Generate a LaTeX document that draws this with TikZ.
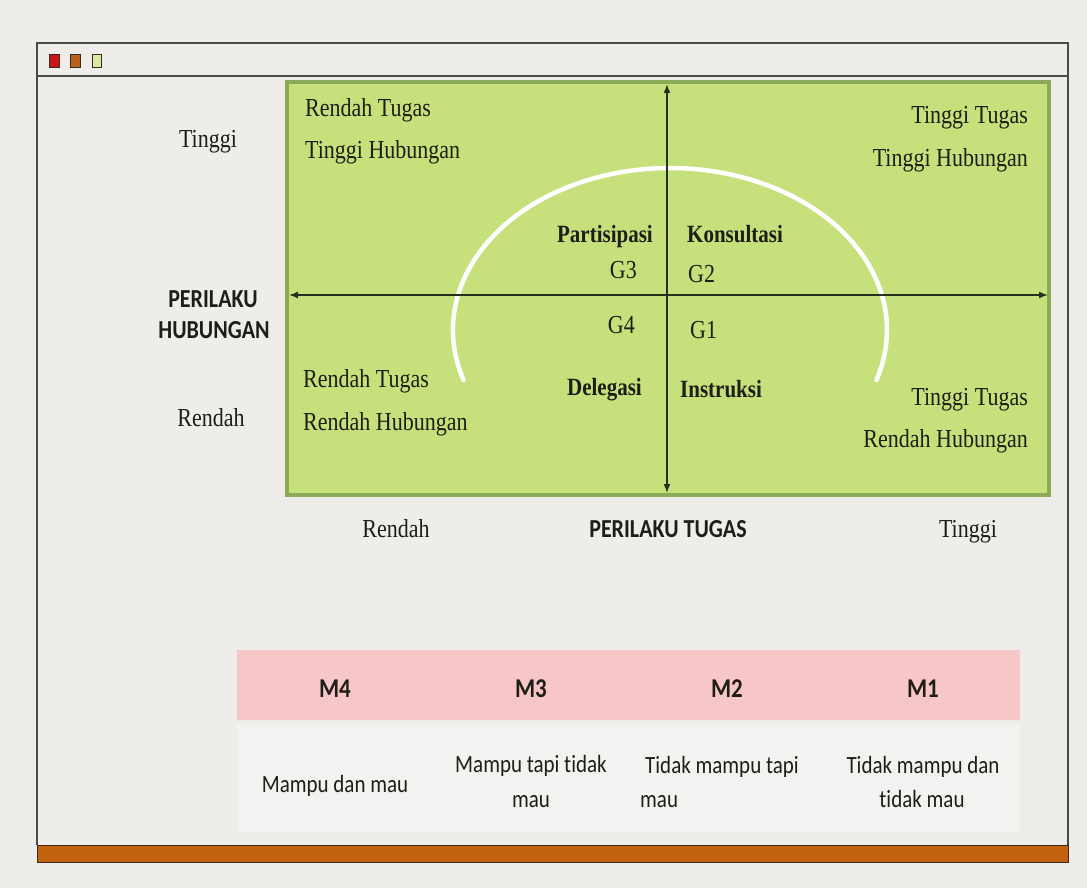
\documentclass[tikz,border=0pt]{standalone}
\usepackage{fontspec}
\setmainfont{Liberation Serif}
\newfontfamily\axisfont[Ligatures=NoCommon]{Carlito}
\newfontfamily\tablefont[Ligatures=NoCommon]{Carlito}
\usetikzlibrary{arrows.meta}

\definecolor{paper}{HTML}{EEEDEA}
\definecolor{frameline}{HTML}{4A4A48}
\definecolor{gridfill}{HTML}{C6E17B}
\definecolor{gridedge}{HTML}{8DAA58}
\definecolor{axisink}{HTML}{27301C}
\definecolor{ink}{HTML}{1E1E16}
\definecolor{pinkband}{HTML}{F7C6C8}
\definecolor{tablebody}{HTML}{F2F2F1}
\definecolor{barorange}{HTML}{C2620E}
\definecolor{barline}{HTML}{3A2A1C}
\definecolor{dotred}{HTML}{C8161A}
\definecolor{dotorange}{HTML}{B8621C}
\definecolor{dotgreen}{HTML}{D6E8A2}

\tikzset{
  tall/.style={yscale=1.18, transform shape},
  qtext/.style={inner sep=0pt, text=ink, tall, font=\fontsize{22}{26}\selectfont},
  qbold/.style={inner sep=0pt, text=ink, tall, font=\fontsize{21}{25}\selectfont\bfseries},
  sidelab/.style={inner sep=0pt, text=ink, tall, font=\fontsize{22}{26}\selectfont},
  axislab/.style={inner sep=0pt, text=ink, tall, font=\axisfont\bfseries\fontsize{22}{26}\selectfont},
  tabhead/.style={inner sep=0pt, text=ink, tall, font=\tablefont\bfseries\fontsize{23}{27}\selectfont},
  tabcell/.style={inner sep=0pt, text=ink, tall, font=\tablefont\fontsize{21}{25}\selectfont},
  axisarrow/.style={draw=axisink, line width=1.6pt, {Latex[length=9pt,width=7pt]}-{Latex[length=9pt,width=7pt]}},
  dot/.style={draw=barline, line width=0.8pt},
}

\begin{document}
\begin{tikzpicture}[x=1pt, y=1pt]
  % page background
  \fill[paper] (0,0) rectangle (1087,-888);
  \useasboundingbox (0,0) rectangle (1087,-888);

  % window frame with title bar
  \draw[frameline, line width=1.6pt] (37,-845) -- (37,-43) -- (1068,-43) -- (1068,-845);
  \draw[frameline, line width=1.6pt] (37,-76) -- (1068,-76);
  \draw[dot, fill=dotred]    (49,-54) rectangle (59,-67);
  \draw[dot, fill=dotorange] (70,-54) rectangle (80,-67);
  \draw[dot, fill=dotgreen]  (92,-54) rectangle (101,-67);

  % bottom bar
  \draw[fill=barorange, draw=barline, line width=1pt] (37,-845) rectangle (1068,-862);

  % quadrant field
  \draw[fill=gridfill, draw=gridedge, line width=3.5pt] (287,-82) rectangle (1049,-495);

  % white curve across the quadrants
  \draw[white, line width=4.5pt, line cap=round]
    (463.6,-380.1) arc[start angle=198, end angle=-18, x radius=217, y radius=162];

  % axes
  \coordinate (vtop) at (667,-84);
  \coordinate (vbot) at (667,-493);
  \coordinate (hleft) at (289,-295);
  \coordinate (hright) at (1048,-295);
  \draw[axisarrow] (vbot) -- (vtop);
  \draw[axisarrow] (hleft) -- (hright);

  % quadrant corner descriptions
  \node[qtext, anchor=base west] (tl1) at (305,-117) {Rendah Tugas};
  \node[qtext, anchor=base west] (tl2) at (305,-158) {Tinggi Hubungan};
  \node[qtext, anchor=base east] (tr1) at (1028,-124) {Tinggi Tugas};
  \node[qtext, anchor=base east] (tr2) at (1028,-166) {Tinggi Hubungan};
  \node[qtext, anchor=base west] (bl1) at (303,-387) {Rendah Tugas};
  \node[qtext, anchor=base west] (bl2) at (303,-430) {Rendah Hubungan};
  \node[qtext, anchor=base east] (br1) at (1028,-405) {Tinggi Tugas};
  \node[qtext, anchor=base east] (br2) at (1028,-447) {Rendah Hubungan};

  % leadership styles
  \node[qbold, anchor=base east] (g3s) at (653,-242) {Partisipasi};
  \node[qtext, anchor=base east] (g3)  at (637,-278) {G3};
  \node[qbold, anchor=base west] (g2s) at (687,-242) {Konsultasi};
  \node[qtext, anchor=base west] (g2)  at (688,-282) {G2};
  \node[qtext, anchor=base east] (g4)  at (635,-333) {G4};
  \node[qbold, anchor=base east] (g4s) at (642,-395) {Delegasi};
  \node[qtext, anchor=base west] (g1)  at (690,-338) {G1};
  \node[qbold, anchor=base west] (g1s) at (680,-397) {Instruksi};

  % axis labels
  \node[sidelab, anchor=base] (ytop) at (208,-147) {Tinggi};
  \node[axislab, anchor=base] (ylab1) at (213,-307) {PERILAKU};
  \node[axislab, anchor=base] (ylab2) at (214,-338) {HUBUNGAN};
  \node[sidelab, anchor=base] (ybot) at (211,-426) {Rendah};
  \node[sidelab, anchor=base] (xlow) at (396,-537) {Rendah};
  \node[axislab, anchor=base] (xlab) at (668,-537) {PERILAKU TUGAS};
  \node[sidelab, anchor=base] (xhigh) at (968,-537) {Tinggi};

  % maturity table
  \fill[pinkband] (237,-650) rectangle (1020,-720);
  \fill[tablebody] (237,-724) rectangle (1020,-832);
  \node[tabhead, anchor=base] (m4) at (335,-697) {M4};
  \node[tabhead, anchor=base] (m3) at (531,-697) {M3};
  \node[tabhead, anchor=base] (m2) at (727,-697) {M2};
  \node[tabhead, anchor=base] (m1) at (923,-697) {M1};
  \node[tabcell, anchor=base] (c4) at (335,-792) {Mampu dan mau};
  \node[tabcell, anchor=base] (c3a) at (531,-772) {Mampu tapi tidak};
  \node[tabcell, anchor=base] (c3b) at (531,-807) {mau};
  \node[tabcell, anchor=base west] (c2a) at (645,-773) {Tidak mampu tapi};
  \node[tabcell, anchor=base west] (c2b) at (640,-807) {mau};
  \node[tabcell, anchor=base] (c1a) at (923,-773) {Tidak mampu dan};
  \node[tabcell, anchor=base] (c1b) at (922,-807) {tidak mau};
\end{tikzpicture}
\end{document}
